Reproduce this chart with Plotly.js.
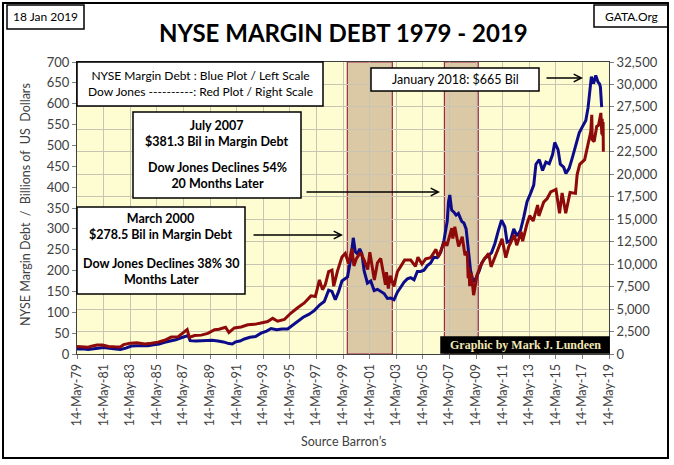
<!DOCTYPE html>
<html>
<head>
<meta charset="utf-8">
<script src="https://cdn.plot.ly/plotly-3.0.1.min.js"></script>
<style>html,body{margin:0;padding:0;background:#fff;}#chart{width:674px;height:465px;}</style>
</head>
<body>
<div id="chart"></div>
<script>
// ---- Data ----
const marginDates = ["1979-05-14","1979-10-15","1980-03-15","1980-08-15","1980-12-15","1981-05-15","1981-10-15","1982-03-15","1982-08-15","1983-01-15","1983-06-15","1983-11-15","1984-04-15","1984-09-15","1985-02-15","1985-07-15","1985-12-15","1986-05-15","1986-10-15","1987-03-15","1987-08-15","1987-09-20","1987-11-15","1988-04-15","1988-09-15","1989-02-15","1989-07-15","1989-12-15","1990-05-15","1990-10-15","1991-01-15","1991-04-15","1991-08-15","1991-12-15","1992-05-15","1992-10-15","1993-03-15","1993-08-15","1993-12-15","1994-05-15","1994-10-15","1995-03-15","1995-08-15","1995-12-15","1996-05-15","1996-10-15","1997-03-15","1997-08-15","1997-12-15","1998-04-15","1998-07-15","1998-10-15","1999-01-15","1999-04-15","1999-07-15","1999-09-15","1999-12-15","2000-02-20","2000-04-15","2000-06-15","2000-08-15","2000-10-15","2000-12-15","2001-03-15","2001-06-15","2001-09-15","2001-12-15","2002-03-15","2002-06-15","2002-09-15","2002-12-15","2003-03-15","2003-06-15","2003-09-15","2003-12-15","2004-03-15","2004-06-15","2004-09-15","2004-12-15","2005-03-15","2005-06-15","2005-09-15","2005-12-15","2006-03-15","2006-06-15","2006-09-15","2006-12-15","2007-03-15","2007-04-20","2007-05-25","2007-07-15","2007-09-15","2007-11-15","2008-01-15","2008-04-15","2008-06-15","2008-08-15","2008-10-15","2008-12-15","2009-02-25","2009-05-15","2009-08-15","2009-10-15","2010-01-15","2010-04-15","2010-07-15","2010-10-15","2011-01-15","2011-04-15","2011-07-15","2011-09-15","2011-12-15","2012-03-15","2012-06-15","2012-09-15","2012-12-15","2013-03-15","2013-06-15","2013-09-15","2013-11-15","2014-02-15","2014-05-15","2014-08-15","2014-11-15","2015-02-15","2015-04-15","2015-07-15","2015-09-15","2015-12-15","2016-02-15","2016-05-15","2016-08-15","2016-11-15","2017-02-15","2017-05-15","2017-08-15","2017-10-15","2017-12-15","2018-01-15","2018-03-15","2018-05-15","2018-07-15","2018-08-25","2018-09-20","2018-10-25"];
const marginDebt = [12,12.5,11,13,15,15.5,13.5,12,11,14,19,20,19,19.5,22,24,28,31,34,39,43,44,32,31,32,32,33,31,29,25,24,29,31,36,40,42,50,55,61,58,60,60,70,76,88,95,104,118,126,153,150,130,150,175,182,185,228,278.5,245,240,252,240,199,170,175,152,155,150,145,133,134,130,148,160,172,180,183,178,198,198,201,212,218,232,231,243,272,318,365,381.3,345,340,333,337,318,314,300,250,200,173,182,200,218,230,235,243,265,295,321,305,268,272,300,283,296,328,365,384,405,455,466,440,460,456,478,507,490,455,448,433,445,472,500,530,545,560,590,643,665,648,668,652,648,640,592];

const dowDates = ["1979-05-14","1979-11-15","1980-03-20","1980-06-15","1980-11-15","1981-04-15","1981-09-25","1982-03-15","1982-08-12","1982-11-15","1983-05-15","1983-11-15","1984-06-15","1984-12-15","1985-06-15","1985-12-15","1986-06-15","1986-12-15","1987-04-15","1987-08-25","1987-10-25","1988-03-15","1988-09-15","1989-03-15","1989-09-15","1990-01-15","1990-07-15","1990-10-15","1991-03-15","1991-09-15","1992-03-15","1992-09-15","1993-03-15","1993-09-15","1994-01-30","1994-06-15","1994-12-15","1995-06-15","1995-12-15","1996-06-15","1996-12-15","1997-04-15","1997-08-05","1997-10-28","1998-01-15","1998-04-15","1998-07-15","1998-09-01","1998-12-15","1999-04-15","1999-07-15","1999-10-15","2000-01-14","2000-03-08","2000-05-15","2000-09-05","2000-12-15","2001-03-22","2001-05-20","2001-09-21","2001-12-15","2002-03-15","2002-07-23","2002-08-20","2002-10-09","2002-12-01","2003-03-11","2003-06-15","2003-12-31","2004-06-15","2004-10-25","2004-12-31","2005-04-20","2005-08-01","2005-12-15","2006-05-10","2006-07-15","2006-12-27","2007-03-05","2007-07-19","2007-08-16","2007-10-09","2008-01-22","2008-05-01","2008-07-15","2008-09-15","2008-10-10","2008-11-04","2008-11-20","2009-01-05","2009-03-09","2009-06-12","2009-09-15","2009-12-15","2010-04-26","2010-07-02","2010-12-31","2011-04-29","2011-08-10","2011-10-31","2012-04-02","2012-06-04","2012-10-05","2012-11-15","2013-03-15","2013-05-28","2013-08-30","2013-12-31","2014-02-03","2014-06-15","2014-09-19","2014-12-26","2015-05-19","2015-08-25","2015-11-03","2016-02-11","2016-06-08","2016-11-04","2016-12-20","2017-03-01","2017-07-15","2017-10-15","2017-12-29","2018-01-26","2018-02-08","2018-04-02","2018-06-11","2018-07-30","2018-10-03","2018-10-29","2018-11-08","2018-11-23","2018-12-03","2018-12-10"];
const dowJones = [840,820,760,870,990,1010,840,800,780,1040,1210,1260,1110,1200,1320,1530,1880,1910,2330,2720,1850,2060,2100,2290,2700,2750,2980,2400,2900,3010,3250,3300,3450,3620,3970,3650,3840,4560,5150,5680,6470,6400,8250,7160,7750,9170,9330,7540,9250,10800,11200,10050,11720,9800,10600,11300,10450,9400,11330,8230,10140,10630,7700,9100,7290,8700,7520,9150,10450,10450,9750,10780,10010,10600,10720,11640,10800,12500,12050,14000,12850,14150,11970,13060,11000,11400,8450,9620,7550,9030,6550,8800,9800,10500,11200,9700,11580,12810,10720,11950,13260,12100,13610,12550,14500,15400,14800,16580,15370,16900,17300,18050,18310,15670,17920,15660,17980,17880,19970,21110,21630,23300,24720,26620,23860,23640,25320,25450,26830,24440,26190,24290,25830,22500];

const tickDates = ["1979-05-14","1981-05-14","1983-05-14","1985-05-14","1987-05-14","1989-05-14","1991-05-14","1993-05-14","1995-05-14","1997-05-14","1999-05-14","2001-05-14","2003-05-14","2005-05-14","2007-05-14","2009-05-14","2011-05-14","2013-05-14","2015-05-14","2017-05-14","2019-05-14"];
const tickLabels = ["14-May-79","14-May-81","14-May-83","14-May-85","14-May-87","14-May-89","14-May-91","14-May-93","14-May-95","14-May-97","14-May-99","14-May-01","14-May-03","14-May-05","14-May-07","14-May-09","14-May-11","14-May-13","14-May-15","14-May-17","14-May-19"];

const shadeStarts = ["1999-09-10","2006-12-28"];
const shadeEnds = ["2003-01-28","2009-07-15"];

// ---- Chart ----
const FONT = 'Lato, "Noto Sans", sans-serif';
const GRID = '#c9c4b2';

const traces = [
  {x: marginDates, y: marginDebt, type: 'scatter', mode: 'lines', name: 'NYSE Margin Debt',
   line: {color: '#0c0c8a', width: 3}, yaxis: 'y', hoverinfo: 'skip'},
  {x: dowDates, y: dowJones, type: 'scatter', mode: 'lines', name: 'Dow Jones',
   line: {color: '#8e0a0a', width: 3}, yaxis: 'y2', hoverinfo: 'skip'}
];

function px2x(px){ return (px - 77) / 532; }
function px2y(py){ return (354 - py) / 292; }

const shapes = [];
shadeStarts.forEach((s, i) => {
  shapes.push({type: 'rect', xref: 'x', yref: 'paper', x0: s, x1: shadeEnds[i], y0: 0, y1: 1,
    fillcolor: '#dbc8a4', line: {color: '#9c2b4c', width: 1.2}, layer: 'below'});
});
function box(x0, y0, x1, y1, fill){
  shapes.push({type: 'rect', xref: 'paper', yref: 'paper', x0: px2x(x0), x1: px2x(x1), y0: px2y(y1), y1: px2y(y0),
    fillcolor: fill, line: {color: '#000', width: 1.5}, layer: 'above'});
}
box(77, 62, 323, 106, '#fff');      // legend box
box(133, 112, 301, 198, '#fff');    // July 2007 box
box(77, 207, 245, 294, '#fff');     // March 2000 box
box(371, 68, 539, 91, '#fff');      // January 2018 box
box(441, 337, 609, 353, '#000');    // Graphic by
box(7, 5, 84, 29, '#fff');          // date box
box(594, 5, 668, 27, '#fff');       // GATA box
// outer frame
shapes.push({type: 'rect', xref: 'paper', yref: 'paper', x0: px2x(3), x1: px2x(668), y0: px2y(458), y1: px2y(3),
  line: {color: '#000', width: 2}, fillcolor: 'rgba(0,0,0,0)', layer: 'above'});

function txt(text, cx, cy, size, extra){
  return Object.assign({text: text, xref: 'paper', yref: 'paper', x: px2x(cx), y: px2y(cy),
    xanchor: 'center', yanchor: 'middle', showarrow: false,
    font: {family: FONT, size: size, color: '#000'}}, extra || {});
}
function arrow(x0, x1, y){
  return {text: '', xref: 'paper', yref: 'paper', x: px2x(x1), y: px2y(y), ax: -(x1 - x0), ay: 0,
    showarrow: true, arrowhead: 5, arrowsize: 1, arrowwidth: 1.5, arrowcolor: '#000', standoff: 0, startstandoff: 0};
}

const annotations = [
  txt('<b>NYSE MARGIN DEBT 1979 - 2019</b>', 343, 33, 24),
  txt('18 Jan 2019', 45, 17, 12),
  txt('GATA.Org', 631, 16, 12),
  txt('NYSE Margin Debt : Blue Plot / Left Scale<br>Dow Jones ----------: Red Plot / Right Scale', 200, 83.5, 12),
  txt('<b>July 2007</b><br><b>$381.3 Bil in Margin Debt</b>', 217, 133, 12.5),
  txt('<b>Dow Jones Declines 54%</b><br><b>20 Months Later</b>', 217, 175, 12.5),
  txt('<b>March 2000</b><br><b>$278.5 Bil in Margin Debt</b>', 161, 227, 12.5),
  txt('<b>Dow Jones Declines 38% 30</b><br><b>Months Later</b>', 161, 271, 12.5),
  txt('January 2018: $665 Bil', 455, 79.5, 12.5),
  txt('<b>Graphic by Mark J. Lundeen</b>', 525, 345, 12, {font: {family: '"Liberation Serif", "DejaVu Serif", serif', size: 12, color: '#f3e7b5'}}),
  txt('Source Barron\u2019s', 343, 441, 12.5, {font: {family: FONT, size: 12.5, color: '#404040'}}),
  txt('NYSE Margin Debt\u00a0 /\u00a0 Billions of\u00a0 US\u00a0 Dollars', 25, 205, 12.5, {textangle: -90, font: {family: FONT, size: 12.5, color: '#404040'}}),
  arrow(252, 343, 235),
  arrow(305, 440, 192),
  arrow(545, 583, 78)
];

const layout = {
  width: 674, height: 465,
  margin: {l: 77, r: 65, t: 62, b: 111, pad: 0},
  paper_bgcolor: '#ffffff',
  plot_bgcolor: '#fefcd1',
  showlegend: false,
  font: {family: FONT, color: '#404040'},
  xaxis: {type: 'date', range: ['1979-05-14', '2019-05-14'], tickmode: 'array', tickvals: tickDates, ticktext: tickLabels,
    tickangle: -90, ticks: 'outside', ticklen: 4, tickcolor: '#808080', showgrid: true, gridcolor: GRID,
    showline: true, linecolor: '#404040', linewidth: 1, mirror: true, zeroline: false,
    tickfont: {family: FONT, size: 12.5, color: '#404040'}, fixedrange: true},
  yaxis: {range: [0, 700], tick0: 0, dtick: 50, ticks: 'outside', ticklen: 4, tickcolor: '#808080',
    showgrid: false, showline: true, linecolor: '#404040', linewidth: 1, zeroline: false,
    tickfont: {family: FONT, size: 13, color: '#404040'}, fixedrange: true},
  yaxis2: {overlaying: 'y', side: 'right', range: [0, 32500], tick0: 0, dtick: 2500, tickformat: ',',
    ticks: 'outside', ticklen: 4, tickcolor: '#808080', showgrid: true, gridcolor: GRID,
    showline: true, linecolor: '#404040', linewidth: 1, zeroline: false,
    tickfont: {family: FONT, size: 13, color: '#404040'}, fixedrange: true},
  shapes: shapes,
  annotations: annotations
};

Plotly.newPlot('chart', traces, layout, {displayModeBar: false, staticPlot: true});
</script>
</body>
</html>
